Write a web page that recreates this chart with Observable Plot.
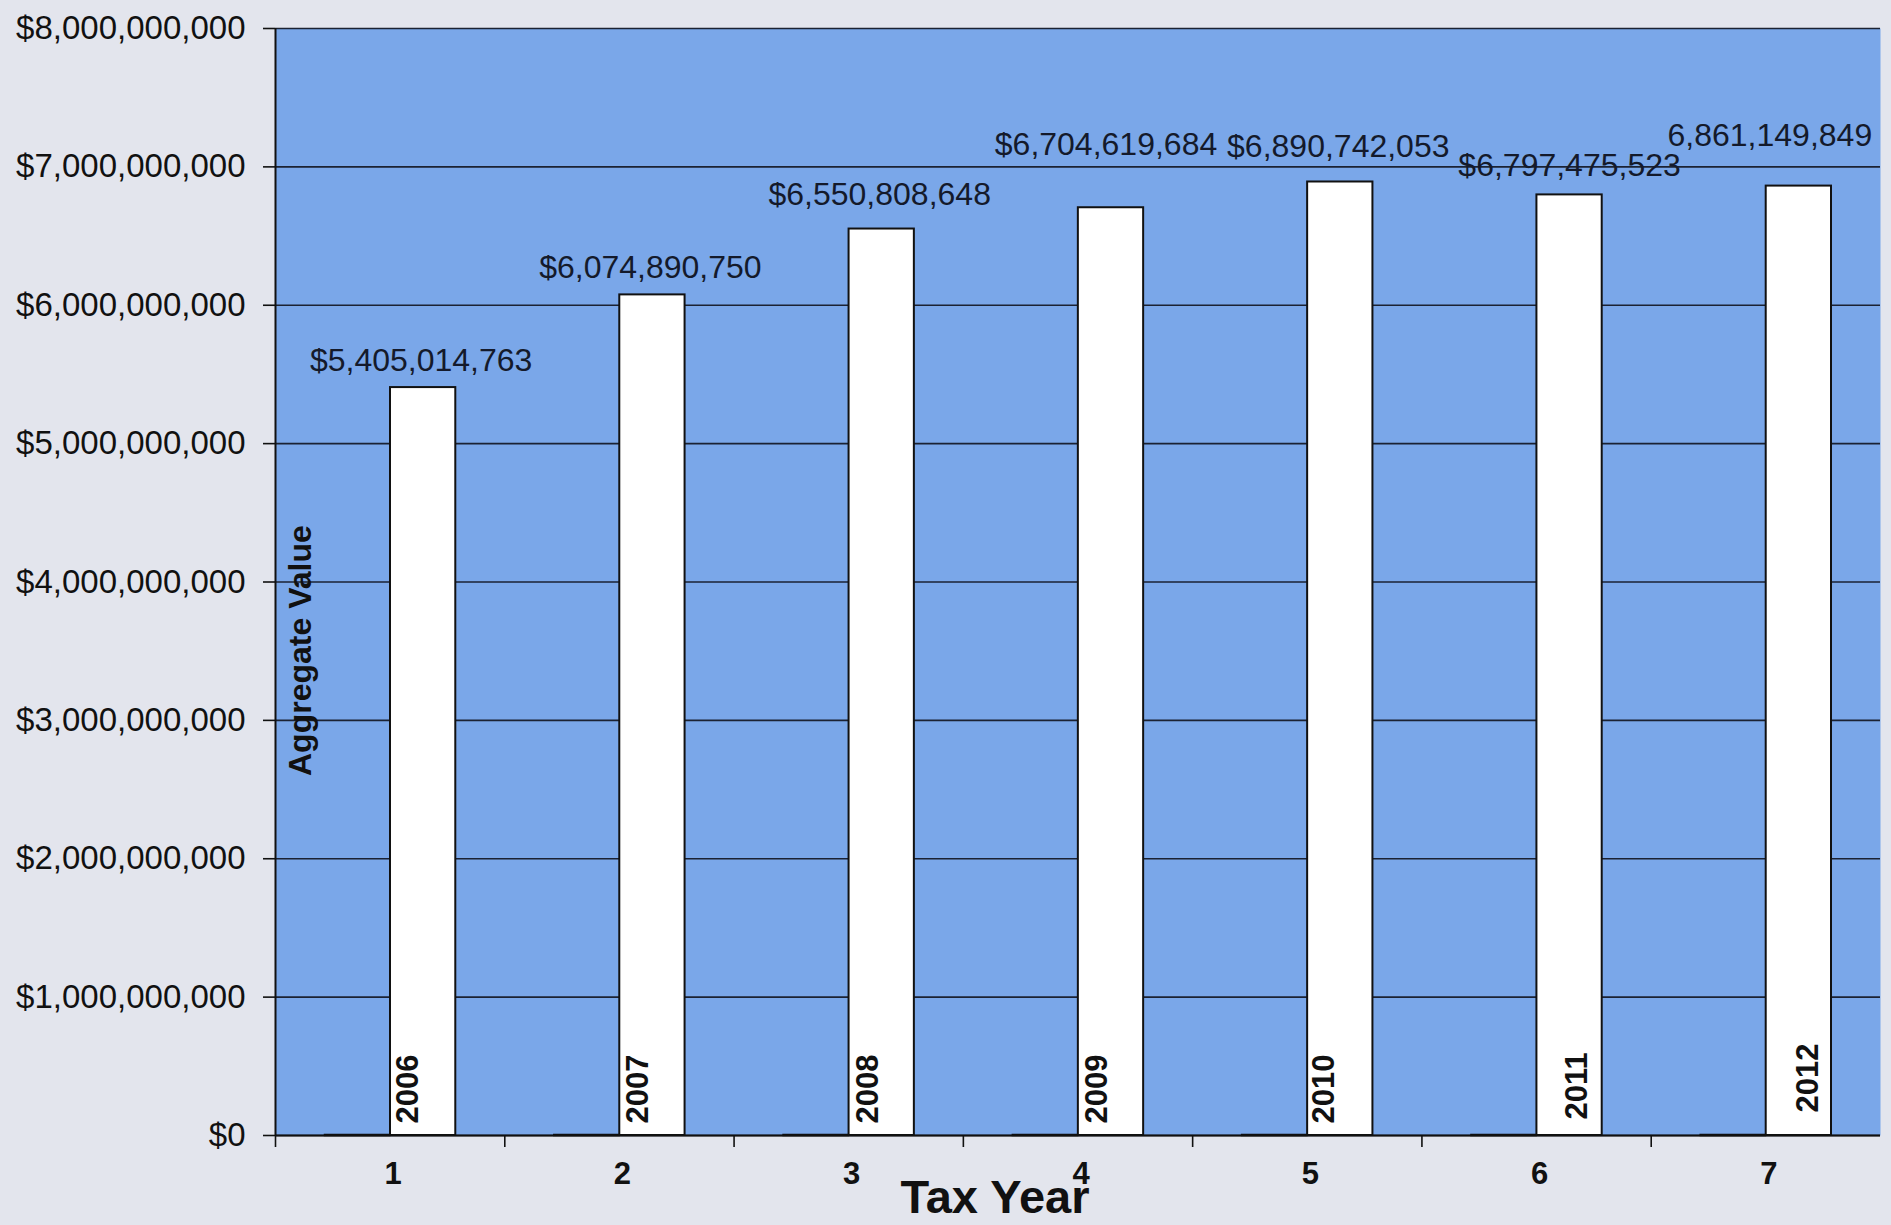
<!DOCTYPE html>
<html>
<head>
<meta charset="utf-8">
<script src="https://cdn.jsdelivr.net/npm/d3@7"></script>
<script src="https://cdn.jsdelivr.net/npm/@observablehq/plot@0.6"></script>
<style>
  html, body { margin: 0; padding: 0; background: #e3e5ed; }
  #chart { width: 1891px; height: 1225px; }
</style>
</head>
<body>
<div id="chart"></div>
<script>
// ---- data ----
const categories = [1, 2, 3, 4, 5, 6, 7];
const yearLabels = ["2006", "2007", "2008", "2009", "2010", "2011", "2012"];
const yearValues = [2006, 2007, 2008, 2009, 2010, 2011, 2012];
const aggregateValues = [5405014763, 6074890750, 6550808648, 6704619684, 6890742053, 6797475523, 6861149849];
const valueLabels = ["$5,405,014,763", "$6,074,890,750", "$6,550,808,648", "$6,704,619,684", "$6,890,742,053", "$6,797,475,523", "6,861,149,849"];
const yTicks = [0, 1e9, 2e9, 3e9, 4e9, 5e9, 6e9, 7e9, 8e9];
const xTitle = "Tax Year";
const yTitle = "Aggregate Value";

const rows = categories.map((c, i) => ({
  cat: c, year: yearValues[i], yearLabel: yearLabels[i],
  value: aggregateValues[i], label: valueLabels[i]
}));

// ---- layout (label nudges, as in the original) ----
const valueLabelNudge = [[31, -17], [31, -17], [31, -24], [28, -53], [31, -25], [33, -19], [4, -40]];
const yearLabelNudge = [[18, -12], [19, -12], [19, -12], [19, -12], [17, -12], [41, -16], [42, -23]];

const font = "'Liberation Sans', Arial, Helvetica, sans-serif";
const ink = "#111";

const marks = [
  Plot.frame({fill: "#7aa7e9", stroke: "none"}),
  Plot.ruleY(yTicks, {stroke: "#1b2233", strokeWidth: 1.6}),
  Plot.rect(rows, {x1: d => d.cat - 1, x2: d => d.cat, y1: 0, y2: "year",
    fill: ink, stroke: ink, strokeWidth: 2.5, insetLeft: 50, insetRight: 115}),
  Plot.rect(rows, {x1: d => d.cat - 1, x2: d => d.cat, y1: 0, y2: "value",
    fill: "white", stroke: ink, strokeWidth: 2, insetLeft: 115, insetRight: 49}),
  Plot.ruleX([0], {stroke: ink, strokeWidth: 2}),
  Plot.ruleY([0], {stroke: ink, strokeWidth: 2}),
  Plot.axisY({ticks: yTicks, tickSize: 12, tickPadding: 18, strokeWidth: 1.6,
    tickFormat: d => "$" + d3.format(",")(d), fontSize: 33, fill: ink, label: null}),
  Plot.axisX({ticks: categories.map(c => c - 1), tickSize: 12, tickFormat: () => "",
    strokeWidth: 1.6, label: null}),
  Plot.axisX({ticks: categories.map(c => c - 0.5), tickSize: 0, tickPadding: 26, dx: 3,
    tickFormat: d => String(d + 0.5), fontSize: 31, fontWeight: "bold", fill: ink, label: null}),
  Plot.text([xTitle], {frameAnchor: "bottom", dx: -83, dy: 77, lineAnchor: "bottom",
    fontSize: 47, fontWeight: "bold", fill: ink}),
  Plot.text([yTitle], {frameAnchor: "left", rotate: -90, dx: 25, dy: 194, lineAnchor: "middle",
    fontSize: 32, fontWeight: "bold", fill: ink})
];

rows.forEach((r, i) => {
  marks.push(Plot.text([r], {x: d => d.cat - 0.5, y: "value", text: "label",
    dx: valueLabelNudge[i][0], dy: valueLabelNudge[i][1], lineAnchor: "bottom",
    fontSize: 32, fill: "#141a2b"}));
  marks.push(Plot.text([r], {x: d => d.cat - 0.5, y: 0, text: "yearLabel",
    dx: yearLabelNudge[i][0], dy: yearLabelNudge[i][1], rotate: -90,
    textAnchor: "start", lineAnchor: "middle", fontSize: 31, fontWeight: "bold", fill: ink}));
});

const chart = Plot.plot({
  width: 1891,
  height: 1225,
  marginLeft: 275,
  marginRight: 11,
  marginTop: 28,
  marginBottom: 90,
  style: {background: "transparent", fontFamily: font, color: ink},
  x: {type: "linear", domain: [0, 7], axis: null},
  y: {domain: [0, 8e9], axis: null},
  marks
});
document.getElementById("chart").appendChild(chart);
</script>
</body>
</html>
